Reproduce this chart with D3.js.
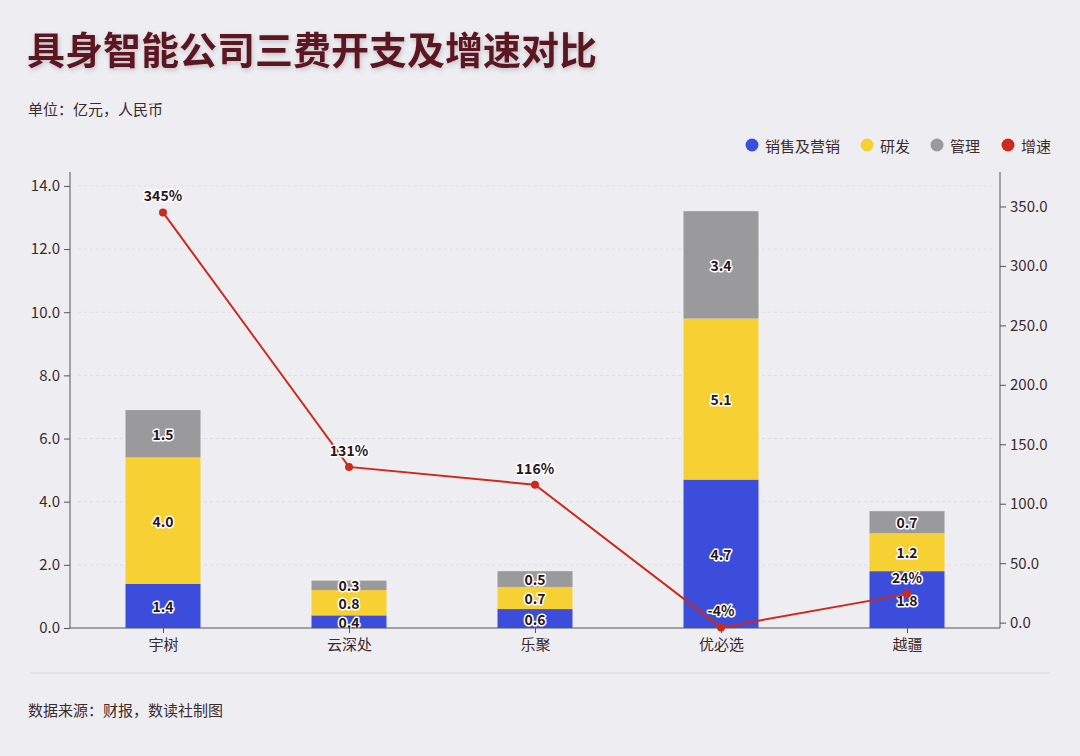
<!DOCTYPE html>
<html>
<head>
<meta charset="utf-8">
<script src="https://cdn.jsdelivr.net/npm/d3@7"></script>
<style>
  body { margin: 0; background: #eeeef2; }
  svg { display: block; font-family: "Noto Sans CJK SC", "Noto Sans", sans-serif; }
</style>
</head>
<body>
<svg id="chart"></svg>
<script>
// data
const companies = ['宇树', '云深处', '乐聚', '优必选', '越疆']
const sales = [1.4, 0.4, 0.6, 4.7, 1.8]
const rnd = [4.0, 0.8, 0.7, 5.1, 1.2]
const admin = [1.5, 0.3, 0.5, 3.4, 0.7]
const growth = [345, 131, 116, -4, 24]
const leftTicks = [0, 2, 4, 6, 8, 10, 12, 14]
const rightTicks = [0, 50, 100, 150, 200, 250, 300, 350]

const width = 1080
const height = 756
const margin = { left: 70, right: 80, top: 172, bottom: 128 }
const textColor = '#3b2a2c'

const svg = d3.select('#chart').attr('width', width).attr('height', height)

svg.append('rect').attr('width', width).attr('height', height).attr('fill', '#eeeef2')

const defs = svg.append('defs')
const shadow = defs.append('filter').attr('id', 'shadow')
  .attr('x', '-10%').attr('y', '-30%').attr('width', '120%').attr('height', '160%')
shadow.append('feDropShadow').attr('dx', 1).attr('dy', 2).attr('stdDeviation', 2.5)
  .attr('flood-color', '#000').attr('flood-opacity', 0.2)

// title
svg.append('text')
  .attr('x', 27).attr('y', 64)
  .attr('font-size', 38).attr('font-weight', 700)
  .attr('fill', '#5c1420')
  .attr('filter', 'url(#shadow)')
  .text('具身智能公司三费开支及增速对比')

svg.append('text')
  .attr('x', 28).attr('y', 115)
  .attr('font-size', 15).attr('fill', textColor)
  .text('单位：亿元，人民币')

const x = d3.scalePoint().domain(companies).range([margin.left, width - margin.right]).padding(0.5)
const yLeft = d3.scaleLinear().domain([0, 14.44]).range([height - margin.bottom, margin.top])
const yRight = d3.scaleLinear().domain([-4.5, 379]).range([height - margin.bottom, margin.top])
const barWidth = 75

// grid
svg.append('g').attr('class', 'grid')
  .selectAll('line')
  .data(leftTicks.slice(1))
  .join('line')
  .attr('x1', margin.left + 8).attr('x2', width - margin.right - 8)
  .attr('y1', d => yLeft(d)).attr('y2', d => yLeft(d))
  .attr('stroke', '#dcdce2').attr('stroke-dasharray', '3,3').attr('stroke-width', 1)

// stacked bars
const series = [
  { name: '销售及营销', values: sales, color: '#3d4ddb' },
  { name: '研发', values: rnd, color: '#f7d033' },
  { name: '管理', values: admin, color: '#9a9a9c' }
]
const stackData = companies.map((c, i) => ({ company: c, s0: sales[i], s1: rnd[i], s2: admin[i] }))
const stacked = d3.stack().keys(['s0', 's1', 's2'])(stackData)

const bars = svg.append('g').attr('class', 'bars')
stacked.forEach((layer, k) => {
  const g = bars.append('g').attr('class', 'layer-' + k)
  g.selectAll('rect')
    .data(layer)
    .join('rect')
    .attr('x', d => x(d.data.company) - barWidth / 2)
    .attr('y', d => yLeft(d[1]))
    .attr('width', barWidth)
    .attr('height', d => yLeft(d[0]) - yLeft(d[1]))
    .attr('fill', series[k].color)
})

// bar labels
const labels = svg.append('g').attr('class', 'bar-labels')
stacked.forEach((layer, k) => {
  labels.selectAll('.lbl-' + k)
    .data(layer)
    .join('text')
    .attr('class', 'lbl-' + k)
    .attr('x', d => x(d.data.company))
    .attr('y', d => (yLeft(d[0]) + yLeft(d[1])) / 2)
    .attr('text-anchor', 'middle')
    .attr('dominant-baseline', 'central')
    .attr('font-size', 14).attr('font-weight', 700)
    .attr('fill', '#2a1518')
    .attr('stroke', '#fff').attr('stroke-width', 3).attr('paint-order', 'stroke')
    .attr('stroke-linejoin', 'round')
    .text(d => (d[1] - d[0]).toFixed(1))
})

// axes
const axisLeft = svg.append('g')
  .attr('transform', 'translate(' + margin.left + ',0)')
  .call(d3.axisLeft(yLeft).tickValues(leftTicks).tickFormat(d3.format('.1f')).tickSize(6).tickPadding(4))
axisLeft.select('.domain').attr('d', 'M0,' + margin.top + 'V' + (height - margin.bottom))

const axisRight = svg.append('g')
  .attr('transform', 'translate(' + (width - margin.right) + ',0)')
  .call(d3.axisRight(yRight).tickValues(rightTicks).tickFormat(d3.format('.1f')).tickSize(6).tickPadding(4))
axisRight.select('.domain').attr('d', 'M0,' + margin.top + 'V' + (height - margin.bottom))

const axisBottom = svg.append('g')
  .attr('transform', 'translate(0,' + (height - margin.bottom) + ')')
  .call(d3.axisBottom(x).tickSize(5).tickPadding(6))
axisBottom.select('.domain').attr('d', 'M' + margin.left + ',0H' + (width - margin.right))

;[axisLeft, axisRight, axisBottom].forEach(a => {
  a.selectAll('.domain').attr('stroke', '#555')
  a.selectAll('.tick line').attr('stroke', '#555')
  a.selectAll('text').attr('font-size', 15).attr('fill', textColor)
    .attr('font-family', '"Noto Sans CJK SC", "Noto Sans", sans-serif')
})

// growth line
const line = d3.line()
  .x((d, i) => x(companies[i]))
  .y(d => yRight(d))
svg.append('path')
  .datum(growth)
  .attr('d', line)
  .attr('fill', 'none')
  .attr('stroke', '#cc2a1c')
  .attr('stroke-width', 2)

svg.append('g').selectAll('circle')
  .data(growth)
  .join('circle')
  .attr('cx', (d, i) => x(companies[i]))
  .attr('cy', d => yRight(d))
  .attr('r', 4)
  .attr('fill', '#cc2a1c')

svg.append('g').selectAll('text')
  .data(growth)
  .join('text')
  .attr('x', (d, i) => x(companies[i]))
  .attr('y', d => yRight(d) - 11)
  .attr('text-anchor', 'middle')
  .attr('font-size', 14).attr('font-weight', 700)
  .attr('fill', '#2a1518')
  .attr('stroke', '#fff').attr('stroke-width', 3).attr('paint-order', 'stroke')
  .attr('stroke-linejoin', 'round')
  .text(d => d + '%')

// legend
const legendItems = [
  { name: '销售及营销', color: '#3d4ddb', x: 752 },
  { name: '研发', color: '#f7d033', x: 867 },
  { name: '管理', color: '#9a9a9c', x: 937 },
  { name: '增速', color: '#cc2a1c', x: 1008 }
]
const legend = svg.append('g').attr('class', 'legend')
legend.selectAll('circle')
  .data(legendItems)
  .join('circle')
  .attr('cx', d => d.x).attr('cy', 145).attr('r', 6.5)
  .attr('fill', d => d.color)
legend.selectAll('text')
  .data(legendItems)
  .join('text')
  .attr('x', d => d.x + 13).attr('y', 145)
  .attr('dominant-baseline', 'central')
  .attr('font-size', 15).attr('fill', textColor)
  .text(d => d.name)

// footer
svg.append('line')
  .attr('x1', 30).attr('x2', 1050).attr('y1', 673).attr('y2', 673)
  .attr('stroke', '#dedee4').attr('stroke-width', 1.5)

svg.append('text')
  .attr('x', 28).attr('y', 716)
  .attr('font-size', 15).attr('fill', textColor)
  .text('数据来源：财报，数读社制图')
</script>
</body>
</html>
